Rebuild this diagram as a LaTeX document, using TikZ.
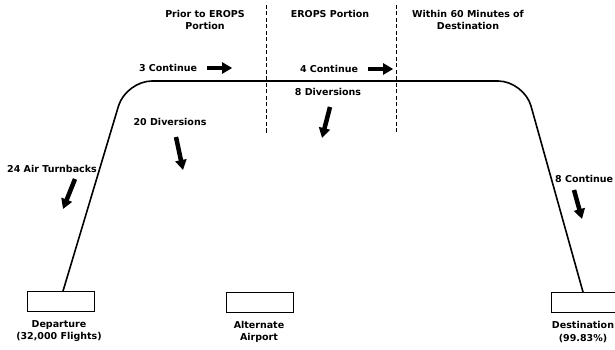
\documentclass[tikz,border=0pt]{standalone}
\usepackage{fontspec}
\setmainfont{DejaVu Sans}
\usetikzlibrary{arrows.meta}

\tikzset{
  lbl/.style={font=\fontsize{9.5}{12.5}\selectfont\bfseries, inner sep=0pt, align=center},
  airport/.style={draw, line width=0.9pt, minimum width=67pt, minimum height=20pt, inner sep=0pt},
  flow/.style={line width=4.5pt, -{Triangle[length=10pt,width=11pt]}},
  boundary/.style={line width=1pt, dash pattern=on 4pt off 2.5pt},
}

\begin{document}
\begin{tikzpicture}[x=1pt, y=-1pt]

    \useasboundingbox (0,0) rectangle (615,350);

    % airports
    \node[airport] (dep) at (60.5,301.5) {};
    \node[airport] (alt) at (259.5,302.5) {};
    \node[airport, anchor=west] (dest) at (551,302.5) {};

    \node[lbl] (deplbl) at (59,331) {Departure\\(32,000 Flights)};
    \node[lbl] (altlbl) at (259,332) {Alternate\\Airport};
    \node[lbl] (destlbl) at (583,332) {Destination\\(99.83\%)};

    % flight profile
    \coordinate (climb) at (126,81);
    \coordinate (descent) at (524,81);
    \draw[line width=1.6pt, rounded corners=26pt]
        ([xshift=2.5pt]dep.north) -- (climb) -- (descent) -- ([xshift=32pt]dest.north west);

    % portion boundaries
    \draw[boundary] (266,5) -- (266,134);
    \draw[boundary] (396,5) -- (396,132);

    \node[lbl] (prior) at (205,20) {Prior to EROPS\\Portion};
    \node[lbl] (erops) at (330,14) {EROPS Portion};
    \node[lbl] (within) at (468,20) {Within 60 Minutes of\\Destination};

    % outcomes
    \node[lbl] (cont3) at (168,68) {3 Continue};
    \draw[flow] ([xshift=10pt]cont3.east) -- ++(25,0);

    \node[lbl] (cont4) at (329,69) {4 Continue};
    \draw[flow] ([xshift=10pt]cont4.east) -- ++(25,0);

    \node[lbl] (div8) at (328,92) {8 Diversions};
    \draw[flow] (330,107) -- (322,138);

    \node[lbl] (div20) at (170,122) {20 Diversions};
    \draw[flow] (176,137) -- (183,170);

    \node[lbl, anchor=east] (turn) at (97,169) {24 Air Turnbacks};
    \draw[flow] (75,179) -- (63,209);

    \node[lbl, anchor=west] (cont8) at (555,179) {8 Continue};
    \draw[flow] (574,190) -- (582,219);

\end{tikzpicture}
\end{document}
